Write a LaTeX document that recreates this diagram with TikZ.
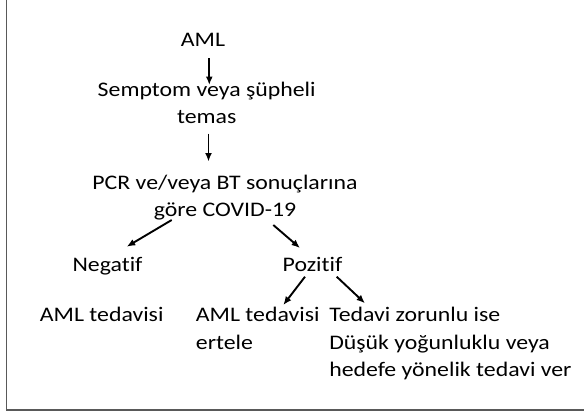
\documentclass[tikz,border=0pt]{standalone}
\usepackage{fontspec}
\setmainfont[Ligatures={NoCommon}, FakeStretch=1.15]{Carlito}
\usetikzlibrary{positioning,arrows.meta}

\tikzset{
    txt/.style={inner sep=0pt, anchor=base, font=\fontsize{20.7}{27.5}\selectfont, text=black},
    txtl/.style={txt, align=left, anchor=base west},
    frame/.style={draw=black!65, line width=1.3pt}
}

\begin{document}
\begin{tikzpicture}[>={Latex[length=8.5pt,width=7pt]}, x=1pt, y=-1pt, line width=1.9pt]
    \useasboundingbox (0,0) rectangle (584,415);
    \draw[frame] (6.5,0) -- (6.5,410) -- (584,410);
    % chart (multi-line nodes sit on their last line)
    \node[txt] (aml) at (203,46.7) {AML};
    \node[txt, align=center] (sem) at (206.7,123.5) {Semptom veya şüpheli\\temas};
    \node[txt, align=center] (pcr) at (225,216.5) {PCR ve/veya BT sonuçlarına\\göre COVID-19};
    \node[txt] (neg) at (107.5,271.7) {Negatif};
    \node[txt] (poz) at (312.5,271.7) {Pozitif};
    \node[txt] (amltx) at (101.7,321.7) {AML tedavisi};
    \node[txtl] (ertele) at (195,349.2) {AML tedavisi\\ertele};
    \node[txtl] (tedavi) at (328.3,376.7) {Tedavi zorunlu ise\\Düşük yoğunluklu veya\\hedefe yönelik tedavi ver};
    % arrows
    \draw[->] ([shift={(6.3,11.6)}]aml.base) -- ([shift={(2.6,-38.5)}]sem.base);
    \draw[->] ([shift={(1.8,10)}]sem.base) -- ([shift={(-16.5,-55)}]pcr.base);
    \draw[->] ([shift={(-53.3,3.5)}]pcr.base) -- ([shift={(19.2,-25)}]neg.base);
    \draw[->] ([shift={(48.3,8.5)}]pcr.base) -- ([shift={(-12.5,-23.7)}]poz.base);
    \draw[->] ([shift={(-7.5,5)}]poz.base) -- ([shift={(88.3,-44.2)}]ertele.base west);
    \draw[->] ([shift={(24.2,5)}]poz.base) -- ([shift={(36.7,-73.4)}]tedavi.base west);
\end{tikzpicture}
\end{document}
